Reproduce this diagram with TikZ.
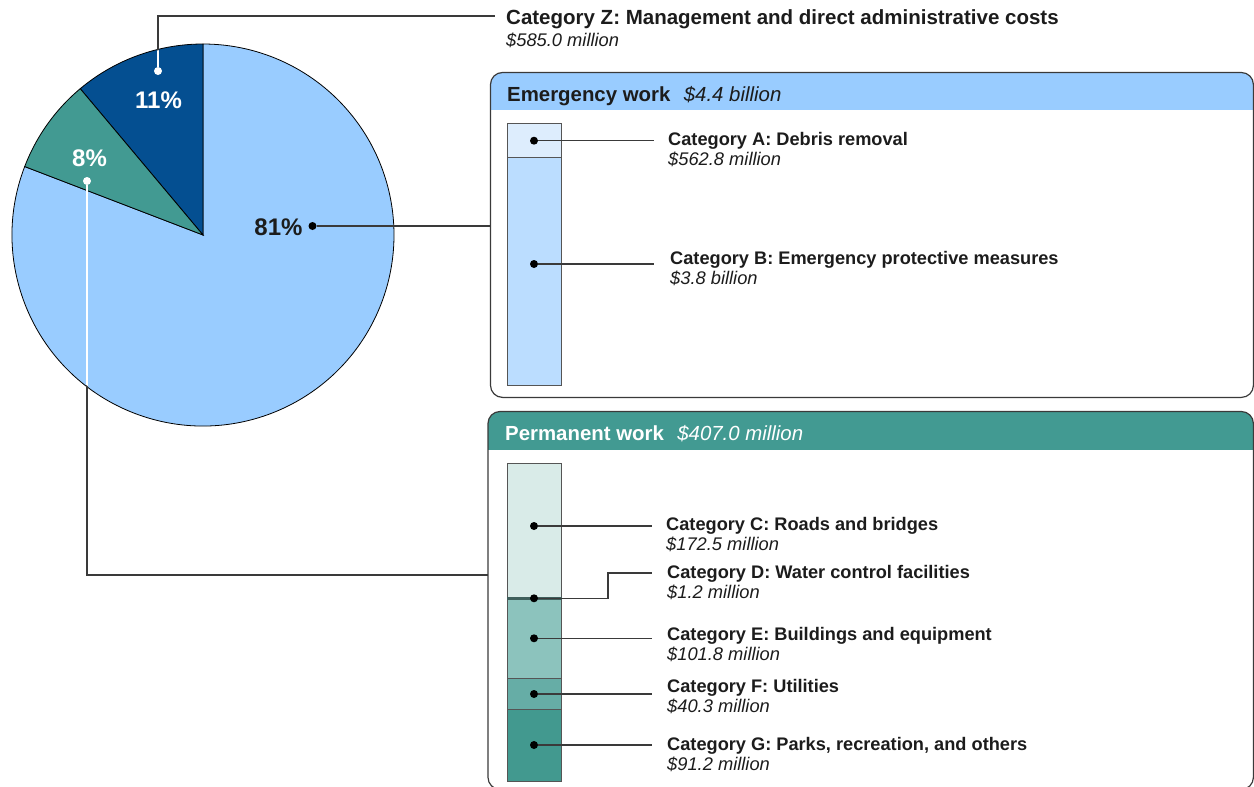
\documentclass[tikz,border=0pt]{standalone}
\usepackage{fontspec}
\setmainfont{Liberation Sans}
\usetikzlibrary{positioning}
\definecolor{ink}{HTML}{1C1C1C}
\definecolor{leadgray}{HTML}{3A3A3A}
\definecolor{bargray}{HTML}{555555}
\definecolor{emergblue}{HTML}{99CCFF}
\definecolor{mgmtblue}{HTML}{044F91}
\definecolor{permteal}{HTML}{429A92}
\definecolor{barA}{HTML}{DDEDFD}
\definecolor{barB}{HTML}{BBDDFF}
\definecolor{barC}{HTML}{D9EBE8}
\definecolor{barD}{HTML}{3F5F5C}
\definecolor{barE}{HTML}{8CC3BD}
\definecolor{barF}{HTML}{66ADA6}
\definecolor{barG}{HTML}{42998F}

\begin{document}
\begin{tikzpicture}[x=1pt,y=-1pt,
    cat/.style={font=\fontsize{18.2}{20}\selectfont\bfseries, text=ink, inner sep=0pt, anchor=base west},
    val/.style={font=\fontsize{18.3}{20}\selectfont\itshape, text=ink, inner sep=0pt, anchor=base west},
    head/.style={font=\fontsize{20.4}{22}\selectfont\bfseries, inner sep=0pt, anchor=base west},
    headval/.style={font=\fontsize{20.4}{22}\selectfont\itshape, inner sep=0pt, anchor=base west},
    pct/.style={font=\fontsize{24}{26}\selectfont\bfseries, inner sep=0pt, anchor=base},
    dot/.style={circle, fill=black, inner sep=0pt, minimum size=8pt},
    wdot/.style={dot, fill=white},
    lead/.style={draw=leadgray, line width=1.3pt},
    seg/.style={draw=bargray, line width=0.8pt},
    panel/.style={draw=leadgray, line width=1.2pt, rounded corners=12pt}]
  \useasboundingbox (0,0) rectangle (1254,787);
  \coordinate (ctr) at (203,235);
  \filldraw[fill=emergblue, draw=black, line width=0.8pt] (ctr) -- ++(-159:191) arc (-159:-450:191) -- cycle;
  \filldraw[fill=mgmtblue, draw=black, line width=0.8pt] (ctr) -- ++(-90:191) arc (-90:-130:191) -- cycle;
  \filldraw[fill=permteal, draw=black, line width=0.8pt] (ctr) -- ++(-130:191) arc (-130:-159:191) -- cycle;
  \node[pct, text=white] (p11) at (158.5,108.3) {11\%};
  \node[pct, text=white] (p8) at (89.5,166) {8\%};
  \node[pct, text=ink] (p81) at (278.5,235) {81\%};

  \node[minimum width=762.5pt, minimum height=324.5pt, inner sep=0pt, anchor=north west] (emerg) at (490.5,72.5) {};
  \node[minimum width=765pt, minimum height=377.5pt, inner sep=0pt, anchor=north west] (perm) at (488,411.5) {};
  \begin{scope}
    \clip[rounded corners=12pt] (emerg.north west) rectangle (emerg.south east);
    \fill[emergblue] (emerg.north west) rectangle (emerg.east |- 0,110);
  \end{scope}
  \begin{scope}
    \clip[rounded corners=12pt] (perm.north west) rectangle (perm.south east);
    \fill[permteal] (perm.north west) rectangle (perm.east |- 0,449.5);
  \end{scope}
  \draw[panel] (emerg.north west) rectangle (emerg.south east);
  \draw[panel] (perm.north west) rectangle (perm.south east);
  \node[head, text=ink] (hE) at (507,101.7) {Emergency work};
  \node[headval, text=ink, right=13pt of hE.base east, anchor=base west] (hEv) {\$4.4 billion};
  \node[head, text=white] (hP) at (505,440) {Permanent work};
  \node[headval, text=white, right=13pt of hP.base east, anchor=base west] (hPv) {\$407.0 million};

  \draw[seg, fill=barA] (507,123) rectangle (561.5,157);
  \draw[seg, fill=barB] (507,157) rectangle (561.5,385);
  \draw[seg, fill=barC] (507,463) rectangle (561.5,597.8);
  \draw[seg, fill=barE] (507,598.8) rectangle (561.5,678.3);
  \draw[seg, fill=barF] (507,678.3) rectangle (561.5,709.8);
  \draw[seg, fill=barG] (507,709.8) rectangle (561.5,781.5);
  \draw[seg, draw=barD, fill=barD, line width=1pt] (507,597.6) rectangle (561.5,599);

  \node[cat, font=\fontsize{20.5}{22}\selectfont\bfseries] (tZ) at (506,24) {Category Z: Management and direct administrative costs};
  \node[val] (vZ) at ([yshift=-22pt]tZ.base west) {\$585.0 million};
  \node[cat] (tA) at (668,145.7) {Category A: Debris removal};
  \node[val] (vA) at ([yshift=-20pt]tA.base west) {\$562.8 million};
  \node[cat] (tB) at (670,264) {Category B: Emergency protective measures};
  \node[val] (vB) at ([yshift=-20pt]tB.base west) {\$3.8 billion};
  \node[cat] (tC) at (666,530) {Category C: Roads and bridges};
  \node[val] (vC) at ([yshift=-20pt]tC.base west) {\$172.5 million};
  \node[cat] (tD) at (667,578.3) {Category D: Water control facilities};
  \node[val] (vD) at ([yshift=-20pt]tD.base west) {\$1.2 million};
  \node[cat] (tE) at (667,640) {Category E: Buildings and equipment};
  \node[val] (vE) at ([yshift=-20pt]tE.base west) {\$101.8 million};
  \node[cat] (tF) at (667,692.7) {Category F: Utilities};
  \node[val] (vF) at ([yshift=-20pt]tF.base west) {\$40.3 million};
  \node[cat] (tG) at (667,750) {Category G: Parks, recreation, and others};
  \node[val] (vG) at ([yshift=-20pt]tG.base west) {\$91.2 million};

  \node[wdot] (dZ) at (158,71) {};
  \node[wdot] (d8) at (87,181) {};
  \node[dot] (d81) at (312.5,226) {};
  \node[dot] (dA) at (534,140.7) {};
  \node[dot] (dB) at (534,264) {};
  \node[dot] (dC) at (534,526) {};
  \node[dot] (dD) at (534,598.3) {};
  \node[dot] (dE) at (534,638.3) {};
  \node[dot] (dF) at (534,694) {};
  \node[dot] (dG) at (534,745) {};
  \coordinate (kZ) at (495,16);
  \coordinate (kP) at (perm.west |- 0,575);
  \coordinate (kD) at (608,573);

  \draw[lead] (dZ) |- (kZ);
  \draw[lead] (d8) |- (kP);
  \draw[lead] (d81) -- (d81 -| emerg.west);
  \begin{scope}
    \clip (ctr) circle[radius=190];
    \draw[lead, draw=white] (dZ) |- (kZ);
    \draw[lead, draw=white] (d8) |- (kP);
  \end{scope}
  \draw[lead, shorten >=14pt] (dA) -- (dA -| tA.west);
  \draw[lead, shorten >=16pt] (dB) -- (dB -| tB.west);
  \draw[lead, shorten >=14pt] (dC) -- (dC -| tC.west);
  \draw[lead, shorten >=15pt] (dD) -| (kD) -- (kD -| tD.west);
  \draw[lead, shorten >=15pt] (dE) -- (dE -| tE.west);
  \draw[lead, shorten >=15pt] (dF) -- (dF -| tF.west);
  \draw[lead, shorten >=15pt] (dG) -- (dG -| tG.west);
\end{tikzpicture}
\end{document}
